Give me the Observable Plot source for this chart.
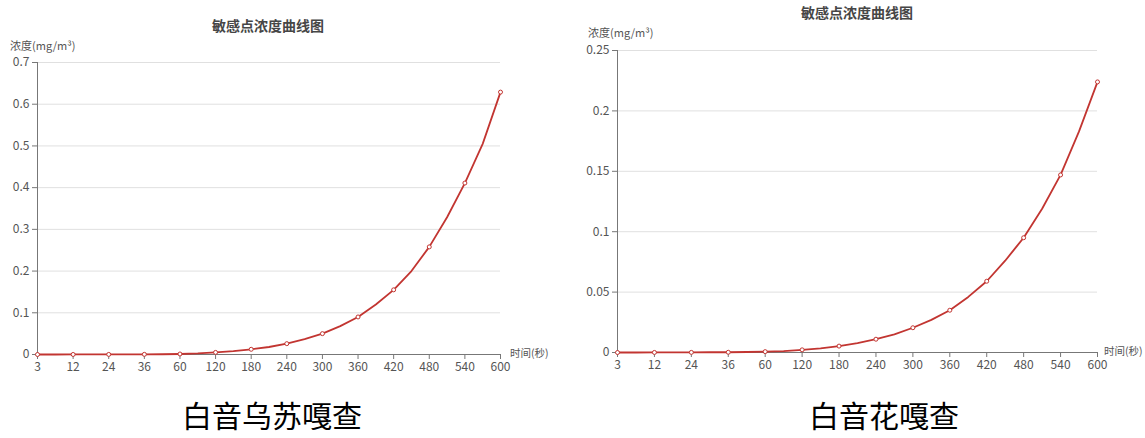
<!DOCTYPE html>
<html>
<head>
<meta charset="utf-8">
<script src="https://cdn.jsdelivr.net/npm/d3@7"></script>
<script src="https://cdn.jsdelivr.net/npm/@observablehq/plot@0.6"></script>
<style>
  html, body { margin: 0; padding: 0; background: #fff; }
  #root { position: relative; width: 1145px; height: 438px; overflow: hidden; font-family: "Noto Sans CJK SC", "Noto Sans", sans-serif; }
  .abs { position: absolute; white-space: nowrap; line-height: 1; }
  .title { font-size: 14px; font-weight: bold; color: #464646; transform: translate(-50%, -50%); }
  .yname, .xname { font-size: 11px; color: #555; transform: translateY(-50%); }
  .xname { font-size: 10.5px; }
  .site { font-size: 30px; font-weight: 400; color: #000; transform: translate(-50%, -50%); }
  svg { position: absolute; top: 0; }
</style>
</head>
<body>
<div id="root"></div>
<script>
// Categories (x axis, seconds); only every other category is labelled
const categories = [3, 6, 12, 18, 24, 30, 36, 48, 60, 90, 120, 150, 180, 210, 240, 270, 300, 330, 360, 390, 420, 450, 480, 510, 540, 570, 600];
const labeledCategories = [3, 12, 24, 36, 60, 120, 180, 240, 300, 360, 420, 480, 540, 600];

// 白音乌苏嘎查 concentration (mg/m³)
const valuesLeft = [0, 0, 0.0001, 0.0001, 0.0002, 0.0003, 0.0004, 0.0006, 0.0012, 0.0025, 0.005, 0.008, 0.0125, 0.018, 0.026, 0.037, 0.05, 0.068, 0.09, 0.12, 0.155, 0.2, 0.258, 0.329, 0.411, 0.505, 0.629];
// 白音花嘎查 concentration (mg/m³)
const valuesRight = [0, 0, 0.00005, 0.0001, 0.0001, 0.0002, 0.0002, 0.0004, 0.0007, 0.0012, 0.0022, 0.0035, 0.0053, 0.0078, 0.011, 0.015, 0.0205, 0.027, 0.035, 0.046, 0.059, 0.076, 0.095, 0.119, 0.147, 0.183, 0.224];

const yTicksLeft = [0, 0.1, 0.2, 0.3, 0.4, 0.5, 0.6, 0.7];
const yTicksRight = [0, 0.05, 0.1, 0.15, 0.2, 0.25];

const chartTitle = "敏感点浓度曲线图";
const yName = "浓度(mg/m³)";
const xName = "时间(秒)";
const siteLeft = "白音乌苏嘎查";
const siteRight = "白音花嘎查";

const lineColor = "#c23531";
const root = document.getElementById("root");

function makeChart(values, yTicks, cfg) {
  // x position = category index (evenly spaced category axis)
  const data = categories.map((c, i) => ({i, cat: c, v: values[i], labeled: labeledCategories.includes(c)}));
  const tickIdx = labeledCategories.map(c => categories.indexOf(c));
  const yMax = yTicks[yTicks.length - 1];
  const svg = Plot.plot({
    width: cfg.width,
    height: 380,
    marginLeft: cfg.ml,
    marginRight: cfg.mr,
    marginTop: cfg.mt,
    marginBottom: cfg.mb,
    style: {fontFamily: "'Noto Sans CJK SC', 'Noto Sans', sans-serif", fontSize: "12px", color: "#555", background: "transparent"},
    x: {domain: [0, categories.length - 1]},
    y: {domain: [0, yMax]},
    marks: [
      Plot.gridY(yTicks.slice(1), {stroke: "#e0e0e0", strokeOpacity: 1}),
      Plot.axisY(yTicks, {tickSize: 5, tickPadding: 3, tickFormat: d => String(d), label: null, stroke: "#777", fill: "#555"}),
      Plot.axisX(tickIdx, {tickSize: 5, tickPadding: 3, tickFormat: i => String(categories[i]), label: null, stroke: "#777", fill: "#555"}),
      Plot.frame({anchor: "left", stroke: "#777"}),
      Plot.ruleY([0], {stroke: "#777"}),
      Plot.line(data, {x: "i", y: "v", stroke: lineColor, strokeWidth: 1.8}),
      Plot.dot(data.filter(d => d.labeled), {x: "i", y: "v", r: 2, fill: "#fff", stroke: lineColor, strokeWidth: 1})
    ]
  });
  svg.style.left = cfg.left + "px";
  root.appendChild(svg);
}

function addText(text, cls, x, y) {
  const d = document.createElement("div");
  d.className = "abs " + cls;
  d.textContent = text;
  d.style.left = x + "px";
  d.style.top = y + "px";
  root.appendChild(d);
}

makeChart(valuesLeft, yTicksLeft, {left: 0, width: 560, ml: 37, mr: 60, mt: 62, mb: 26});
makeChart(valuesRight, yTicksRight, {left: 580, width: 565, ml: 37, mr: 48, mt: 50, mb: 28});

addText(chartTitle, "title", 268, 25);
addText(chartTitle, "title", 857, 12);
addText(yName, "yname", 10, 45);
addText(yName, "yname", 588, 32);
addText(xName, "xname", 510, 353);
addText(xName, "xname", 1104, 351);
addText(siteLeft, "site", 272, 414);
addText(siteRight, "site", 884, 414);
</script>
</body>
</html>
